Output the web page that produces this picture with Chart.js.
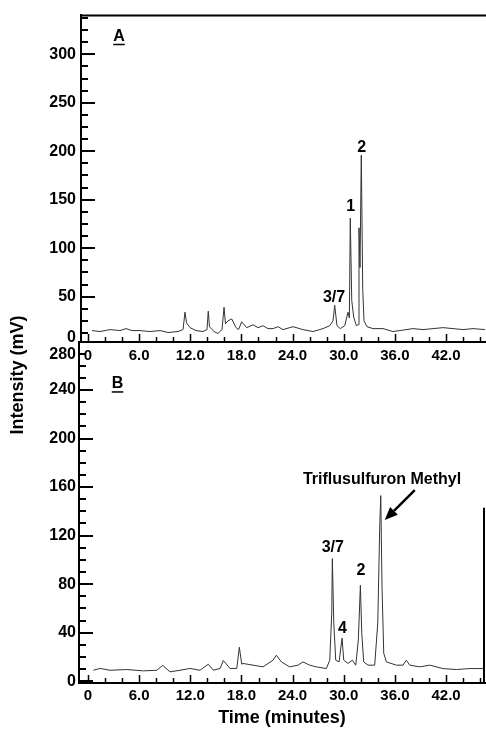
<!DOCTYPE html>
<html lang="en">
<head>
<meta charset="UTF-8">
<title>HPLC chromatograms A and B</title>
<script src="https://cdn.jsdelivr.net/npm/chart.js"></script>
<style>
    body { margin: 0; background: #fff; }
    #wrap { position: relative; width: 486px; height: 730px; }
    canvas { position: absolute; left: 0; top: 0; }
</style>
</head>
<body>
<div id="wrap">
    <canvas id="chartB" width="486" height="730"></canvas>
    <canvas id="chartA" width="486" height="370"></canvas>
</div>

<script>
// ---- data (time in minutes, intensity in mV) ----
const timeA = [0.47, 1.41, 2.58, 3.75, 4.46, 5.16, 6.10, 7.27, 8.45, 9.39, 10.56, 11.15, 11.38, 11.56, 11.97,
    12.67, 13.49, 13.96, 14.11, 14.25, 14.78, 15.25, 15.72, 15.96, 16.13, 16.42, 16.86, 17.36, 17.66, 18.03,
    18.62, 19.36, 19.94, 20.53, 21.12, 21.70, 22.29, 22.88, 24.05, 25.22, 26.40, 27.57, 28.36, 28.74, 28.94,
    29.21, 29.60, 30.12, 30.50, 30.66, 30.77, 30.94, 31.17, 31.48, 31.68, 31.79, 31.91, 32.06, 32.23, 32.38,
    32.73, 33.43, 34.61, 35.78, 36.95, 38.13, 39.30, 40.47, 41.65, 42.82, 43.99, 45.17, 46.57];
const intensityA = [15, 14, 16, 15, 17, 15, 15, 14, 15, 13, 14, 16, 34, 23, 18,
    15, 14, 16, 35, 19, 14, 12, 16, 39, 22, 25, 27, 18, 16, 24,
    18, 21, 18, 20, 17, 17, 19, 16, 19, 16, 14, 17, 20, 25, 41,
    20, 17, 20, 34, 28, 131, 46, 29, 20, 21, 121, 80, 196, 57, 25,
    19, 17, 17, 14, 15.5, 17, 16, 17, 18, 17, 16, 17, 16];

const timeB = [0.62, 1.41, 2.58, 4.54, 6.49, 8.06, 8.76, 9.62, 10.79, 11.97, 13.14, 14.11, 14.70, 15.49, 15.87,
    16.66, 17.45, 17.75, 18.03, 18.18, 19.36, 20.53, 21.70, 22.09, 22.68, 23.66, 24.64, 25.22, 26.01, 26.78,
    27.96, 28.36, 28.59, 28.66, 28.83, 29.06, 29.45, 29.80, 30.00, 30.50, 31.01, 31.41, 31.71, 31.95, 32.11,
    32.34, 32.85, 33.63, 33.99, 34.22, 34.34, 34.49, 34.69, 35.00, 36.17, 36.95, 37.34, 37.74, 38.91, 40.09,
    41.65, 43.21, 44.78, 46.34];
const intensityB = [9, 10.5, 9, 9.6, 8.5, 9, 13, 7.7, 9, 10.5, 9, 14, 9, 10.5, 17,
    10.5, 10.5, 28, 14, 14.6, 13.2, 11.8, 17.3, 21.4, 15.9, 11.8, 13.2, 15.9, 13.2, 11.8,
    10.4, 17.3, 56, 101, 48, 17.3, 15.9, 35.5, 17.3, 14.6, 17.3, 13.2, 34, 79, 40,
    15.9, 13.2, 13.2, 48, 127, 153, 78, 23, 15.9, 13.2, 13.2, 17.3, 13.2, 11.8, 13.2,
    10.4, 9.6, 10.4, 10.4];

// tick labels
const xTickLabels = [0, 6, 12, 18, 24, 30, 36, 42];
const yTickLabelsA = [0, 50, 100, 150, 200, 250, 300];
const yTickLabelsB = [0, 40, 80, 120, 160, 200, 240, 280];

// peak labels: text, time, intensity
const peakTextA = ['3/7', '1', '2'];
const peakTimeA = [28.86, 30.83, 32.1];
const peakValueA = [49, 143, 204];
const peakTextB = ['3/7', '4', '2', 'Triflusulfuron Methyl'];
const peakTimeB = [28.71, 29.86, 32.03, 34.49];
const peakValueB = [110.5, 43.7, 91.5, 166];
const arrowB = [[38.33, 157.5], [34.81, 132.8]];  // tail, tip

const FONT = "'Liberation Sans', Arial, Helvetica, sans-serif";
Chart.defaults.font.family = FONT;
Chart.defaults.font.weight = 'bold';
Chart.defaults.color = '#000';

function isMult(v, step) {
    const r = v / step;
    return Math.abs(r - Math.round(r)) < 1e-6;
}

// every step-multiple inside the scale range
function stepValues(scale, step) {
    const out = [];
    for (let k = Math.ceil(scale.min / step - 1e-9); k * step <= scale.max + 1e-9; k++) out.push(k * step);
    return out;
}

// inward ticks, frame pieces, panel letter and peak labels
const chromDecor = {
    id: 'chromDecor',
    afterDraw(chart, args, o) {
        const ctx = chart.ctx, a = chart.chartArea;
        const x = chart.scales.x, y = chart.scales.y;
        ctx.save();
        ctx.strokeStyle = '#000';
        ctx.fillStyle = '#000';

        ctx.lineWidth = 2;
        stepValues(y, o.yMinor).forEach(v => {
            const py = Math.round(y.getPixelForValue(v));
            if (py < a.top + 2 || py > a.bottom - 2) return;
            const len = isMult(v, o.yMajor) ? 14 : 7;
            ctx.beginPath();
            ctx.moveTo(a.left - 1, py);
            ctx.lineTo(a.left + len, py);
            ctx.stroke();
        });
        ctx.lineWidth = 1.5;
        stepValues(x, o.xMinor).forEach(v => {
            const px = Math.round(x.getPixelForValue(v)) + 0.5;
            if (px < a.left + 2 || px > a.right - 2) return;
            const len = isMult(v, o.xMajor) ? 8 : 5;
            ctx.beginPath();
            ctx.moveTo(px, a.bottom);
            ctx.lineTo(px, a.bottom - len);
            ctx.stroke();
        });

        ctx.lineWidth = 2;
        if (o.topBorder) {
            ctx.beginPath();
            ctx.moveTo(a.left, a.top + 1);
            ctx.lineTo(a.right, a.top + 1);
            ctx.stroke();
        }
        if (o.rightFrom != null) {
            ctx.beginPath();
            ctx.moveTo(a.right - 1, y.getPixelForValue(o.rightFrom));
            ctx.lineTo(a.right - 1, a.bottom);
            ctx.stroke();
        }

        // y label that sits off its tick in the original
        if (o.nudge) {
            ctx.font = 'bold 16px ' + FONT;
            ctx.textAlign = 'right';
            ctx.textBaseline = 'middle';
            ctx.fillText(String(o.nudge.value), a.left - o.nudge.pad, y.getPixelForValue(o.nudge.value) + o.nudge.dy);
        }

        // panel letter, underlined
        ctx.font = 'bold 16px ' + FONT;
        ctx.textAlign = 'center';
        ctx.textBaseline = 'middle';
        const lx = x.getPixelForValue(o.letter.t), ly = y.getPixelForValue(o.letter.v);
        ctx.fillText(o.letter.text, lx, ly);
        const w = ctx.measureText(o.letter.text).width;
        ctx.lineWidth = 1.5;
        ctx.beginPath();
        ctx.moveTo(lx - w / 2, ly + 8);
        ctx.lineTo(lx + w / 2, ly + 8);
        ctx.stroke();

        o.peakText.forEach((s, i) => {
            ctx.fillText(s, x.getPixelForValue(o.peakTime[i]), y.getPixelForValue(o.peakValue[i]));
        });

        if (o.arrow) {
            const x0 = x.getPixelForValue(o.arrow[0][0]), y0 = y.getPixelForValue(o.arrow[0][1]);
            const x1 = x.getPixelForValue(o.arrow[1][0]), y1 = y.getPixelForValue(o.arrow[1][1]);
            const ang = Math.atan2(y1 - y0, x1 - x0);
            const hl = 13, hw = 5.5;
            const bx = x1 - hl * Math.cos(ang), by = y1 - hl * Math.sin(ang);
            ctx.lineWidth = 2.5;
            ctx.beginPath();
            ctx.moveTo(x0, y0);
            ctx.lineTo(bx, by);
            ctx.stroke();
            ctx.beginPath();
            ctx.moveTo(x1, y1);
            ctx.lineTo(bx + hw * Math.sin(ang), by - hw * Math.cos(ang));
            ctx.lineTo(bx - hw * Math.sin(ang), by + hw * Math.cos(ang));
            ctx.closePath();
            ctx.fill();
        }

        if (o.yTitle) {
            ctx.translate(o.yTitle.cx, o.yTitle.cy);
            ctx.rotate(-Math.PI / 2);
            ctx.font = 'bold 18px ' + FONT;
            ctx.fillText(o.yTitle.text, 0, 0);
        }
        ctx.restore();
    }
};

function xLabel(v) {
    if (!xTickLabels.some(l => Math.abs(v - l) < 1e-6)) return '';
    return v === 0 ? '0' : v.toFixed(1);
}

function makeChart(id, cfg) {
    return new Chart(document.getElementById(id), {
        type: 'line',
        data: {
            datasets: [{
                data: cfg.time.map((t, i) => ({ x: t, y: cfg.intensity[i] })),
                borderColor: '#333',
                borderWidth: 1,
                pointRadius: 0,
                tension: 0,
                fill: false
            }]
        },
        options: {
            responsive: false,
            animation: false,
            layout: { padding: cfg.padding },
            plugins: {
                legend: { display: false },
                tooltip: { enabled: false },
                chromDecor: cfg.decor
            },
            scales: {
                x: {
                    type: 'linear',
                    min: cfg.xMin,
                    max: cfg.xMax,
                    grid: { display: false, drawTicks: false },
                    border: { display: true, color: '#000', width: 2 },
                    ticks: {
                        stepSize: 2,
                        includeBounds: false,
                        autoSkip: false,
                        maxRotation: 0,
                        minRotation: 0,
                        padding: cfg.xPad,
                        font: { size: 15, weight: 'bold' },
                        callback: xLabel
                    },
                    title: cfg.xTitle,
                    afterFit: s => { s.height = cfg.xHeight; }
                },
                y: {
                    min: cfg.yMin,
                    max: cfg.yMax,
                    grid: { display: false, drawTicks: false },
                    border: { display: true, color: '#000', width: 2 },
                    ticks: {
                        stepSize: cfg.yStep,
                        includeBounds: false,
                        autoSkip: false,
                        padding: cfg.yPad,
                        font: { size: 16, weight: 'bold' },
                        callback: v => (cfg.yLabels.includes(v) && v !== cfg.decor.nudge.value) ? String(v) : ''
                    },
                    afterFit: s => { s.width = cfg.yWidth; }
                }
            }
        },
        plugins: [chromDecor]
    });
}

makeChart('chartB', {
    time: timeB, intensity: intensityB,
    padding: { top: 341.5, left: 0, right: 1, bottom: 0 },
    xMin: -1.06, xMax: 46.57, xPad: 4, xHeight: 47,
    xTitle: { display: true, text: 'Time (minutes)', font: { size: 18, weight: 'bold' }, padding: { top: 0, bottom: 1 } },
    yMin: -1.5, yMax: 280, yStep: 10, yPad: 3, yWidth: 79,
    yLabels: yTickLabelsB,
    decor: {
        yMajor: 40, yMinor: 10, xMajor: 6, xMinor: 2, topBorder: false, rightFrom: 143,
        nudge: { value: 280, dy: 13, pad: 3 },
        letter: { text: 'B', t: 3.46, v: 245 },
        peakText: peakTextB, peakTime: peakTimeB, peakValue: peakValueB,
        arrow: arrowB,
        yTitle: { text: 'Intensity (mV)', cx: 18, cy: 375 }
    }
});

makeChart('chartA', {
    time: timeA, intensity: intensityA,
    padding: { top: 12, left: 0, right: 0, bottom: 0 },
    xMin: -0.82, xMax: 46.69, xPad: 5, xHeight: 28,
    xTitle: { display: false },
    yMin: 3.2, yMax: 341, yStep: 12.5, yPad: 5, yWidth: 81,
    yLabels: yTickLabelsA,
    decor: {
        yMajor: 50, yMinor: 12.5, xMajor: 6, xMinor: 2, topBorder: true, rightFrom: null,
        nudge: { value: 0, dy: -8, pad: 5 },
        letter: { text: 'A', t: 3.64, v: 318.4 },
        peakText: peakTextA, peakTime: peakTimeA, peakValue: peakValueA,
        arrow: null,
        yTitle: null
    }
});
</script>
</body>
</html>
